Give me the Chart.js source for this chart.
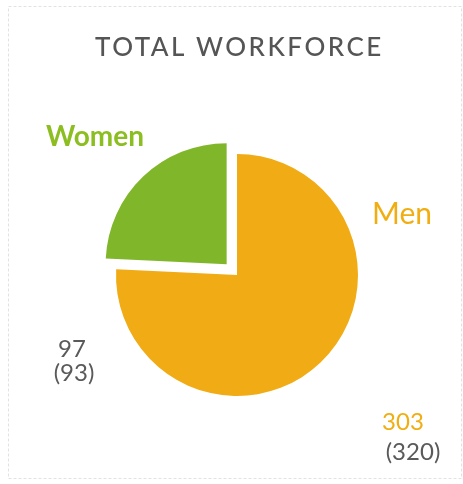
<!DOCTYPE html>
<html>
<head>
<meta charset="utf-8">
<script src="https://cdn.jsdelivr.net/npm/chart.js@4"></script>
<style>
html,body{margin:0;padding:0;background:#fff;}
#wrap{width:463px;height:484px;position:relative;}
</style>
</head>
<body>
<div id="wrap"><canvas id="c" width="463" height="484"></canvas></div>
<script>
const title = "TOTAL WORKFORCE";
const categories = ["Men", "Women"];
const values = [303, 97];
const priorValues = [320, 93];
const sliceColors = ["#F1AB14", "#80B72A"];
const nameColors = ["#F0AE12", "#8CBE22"];

const labelPlugin = {
  id: 'labels',
  beforeDraw(chart) {
    const ctx = chart.ctx;
    ctx.save();
    ctx.strokeStyle = '#e2e2e2';
    ctx.lineWidth = 1;
    ctx.setLineDash([3, 2]);
    ctx.strokeRect(8.5, 6.5, 453, 472);
    ctx.restore();
  },
  afterDraw(chart) {
    const ctx = chart.ctx;
    ctx.save();
    ctx.textBaseline = 'alphabetic';
    ctx.fillStyle = '#555555';
    ctx.font = '500 26px Lato';
    ctx.letterSpacing = '2.5px';
    ctx.textAlign = 'left';
    ctx.fillText(title, 95, 56);
    ctx.letterSpacing = '0px';
    ctx.textAlign = 'center';
    // category names
    ctx.font = 'bold 28px Lato';
    ctx.fillStyle = nameColors[1];
    ctx.fillText(categories[1], 95, 146);
    ctx.font = '30px Lato';
    ctx.fillStyle = nameColors[0];
    ctx.fillText(categories[0], 402, 224);
    // values
    ctx.font = '24px Lato';
    ctx.fillStyle = '#5a5a5a';
    ctx.fillText(String(values[1]), 72, 357);
    ctx.fillText('(' + priorValues[1] + ')', 74, 381);
    ctx.fillStyle = nameColors[0];
    ctx.fillText(String(values[0]), 403, 430);
    ctx.fillStyle = '#5a5a5a';
    ctx.fillText('(' + priorValues[0] + ')', 413, 460);
    ctx.restore();
  }
};

new Chart(document.getElementById('c'), {
  type: 'pie',
  data: {
    labels: categories,
    datasets: [{
      data: values,
      backgroundColor: sliceColors,
      borderWidth: 0,
      offset: [0, 60]
    }]
  },
  options: {
    responsive: false,
    animation: false,
    radius: 121,
    layout: { padding: { left: 11, right: 0, top: 66, bottom: 0 } },
    plugins: { legend: { display: false }, tooltip: { enabled: false } }
  },
  plugins: [labelPlugin]
});
</script>
</body>
</html>
